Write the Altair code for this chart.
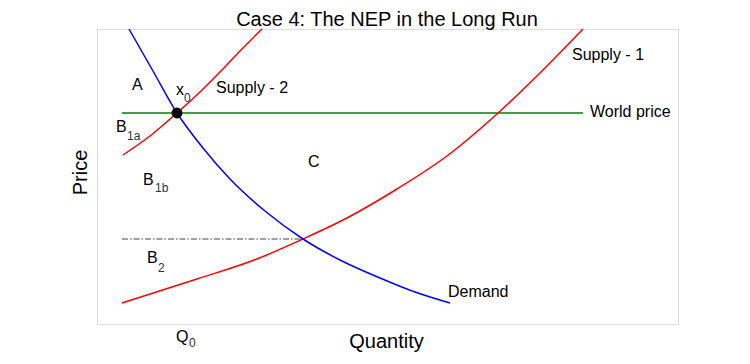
import altair as alt
import pandas as pd

FONT = "Arial, Liberation Sans, sans-serif"

# Curves (arbitrary quantity / price units)
demand_x = [32, 56, 80, 106, 133, 168, 206, 243, 283, 318, 353]
demand_y = [295, 253, 211, 176, 145, 113, 85, 64, 46, 32, 21]

supply1_x = [25, 100, 160, 206, 250, 300, 350, 400, 443, 486]
supply1_y = [21, 45, 65, 85, 106, 135, 168, 210, 251, 295]

supply2_x = [26, 53, 80, 103, 123, 143, 165]
supply2_y = [169, 188, 211, 232, 252, 273, 295]

world_x = [25, 486]
world_y = [211, 211]

q0_dash_x = [25, 206]
q0_dash_y = [85, 85]

eq_x = [80]
eq_y = [211]

# Labels
main_text = ["A", "x", "Supply - 2", "B", "C", "B", "B", "Supply - 1", "World price", "Demand", "Q"]
main_x = [35, 79, 119, 19, 211, 46, 50, 475, 493, 351, 79]
main_y = [234, 229, 231, 192, 157, 139, 61, 264, 207, 27, -18]

sub_text = ["0", "1a", "1b", "2", "0"]
sub_x = [87, 30, 58, 61, 92]
sub_y = [222, 184, 132, 52, -23]

title_text = ["Case 4: The NEP in the Long Run"]
title_x = [290]
title_y = [298]

xs = alt.Scale(domain=[0, 581], nice=False, zero=False)
ys = alt.Scale(domain=[0, 295], nice=False, zero=False)

x_enc = alt.X("x:Q", scale=xs, axis=alt.Axis(
    title="Quantity", labels=False, ticks=False, domain=False, grid=False,
    titleFont=FONT, titleFontSize=20, titleFontWeight="normal", titleColor="black",
    titleX=289, titleY=23, titleAlign="center", titleBaseline="alphabetic"))
y_enc = alt.Y("y:Q", scale=ys, axis=alt.Axis(
    title="Price", labels=False, ticks=False, domain=False, grid=False,
    titleFont=FONT, titleFontSize=20, titleFontWeight="normal", titleColor="black",
    titleX=-11, titleY=143, titleAngle=-90, titleAlign="center", titleBaseline="alphabetic"))


def line_layer(xv, yv, color, dash=None):
    df = pd.DataFrame({"x": xv, "y": yv})
    kw = dict(color=color, strokeWidth=1.5, interpolate="monotone")
    if dash:
        kw["strokeDash"] = dash
        kw["strokeWidth"] = 1.2
    return alt.Chart(df).mark_line(**kw).encode(x=x_enc, y=y_enc)


demand = line_layer(demand_x, demand_y, "#0000ff")
supply1 = line_layer(supply1_x, supply1_y, "#ff0000")
supply2 = line_layer(supply2_x, supply2_y, "#ff0000")
world = line_layer(world_x, world_y, "#008000")
dash = line_layer(q0_dash_x, q0_dash_y, "#444444", dash=[6, 2, 1.5, 2])

dot = alt.Chart(pd.DataFrame({"x": eq_x, "y": eq_y})).mark_circle(
    color="black", opacity=1, size=120).encode(x=x_enc, y=y_enc)

main_labels = alt.Chart(pd.DataFrame({"x": main_x, "y": main_y, "t": main_text})).mark_text(
    align="left", baseline="alphabetic", font=FONT, fontSize=16, color="black").encode(
    x=x_enc, y=y_enc, text="t:N")

sub_labels = alt.Chart(pd.DataFrame({"x": sub_x, "y": sub_y, "t": sub_text})).mark_text(
    align="left", baseline="alphabetic", font=FONT, fontSize=12, color="#333333").encode(
    x=x_enc, y=y_enc, text="t:N")

title = alt.Chart(pd.DataFrame({"x": title_x, "y": title_y, "t": title_text})).mark_text(
    align="center", baseline="alphabetic", font=FONT, fontSize=20, color="black").encode(
    x=x_enc, y=y_enc, text="t:N")

chart = alt.layer(world, dash, supply2, supply1, demand, dot, main_labels, sub_labels, title).properties(
    width=581, height=295,
    autosize=alt.AutoSizeParams(type="none"),
    padding={"left": 89, "top": 21, "right": 64, "bottom": 32},
).configure_view(stroke="#333333", strokeWidth=1).configure(background="white")

chart.save("out.html", embed_options={"renderer": "svg", "actions": False})
